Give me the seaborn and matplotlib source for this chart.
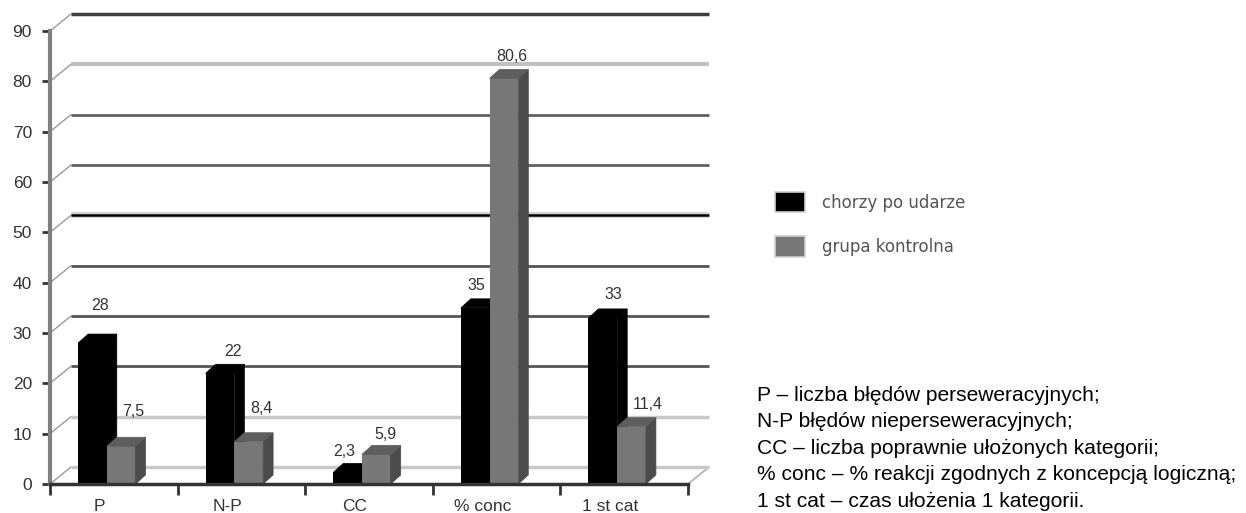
import pandas as pd
import matplotlib
matplotlib.use("Agg")
import matplotlib.pyplot as plt
from matplotlib.patches import Polygon, Patch
from matplotlib.transforms import ScaledTranslation
import seaborn as sns

# --- data -------------------------------------------------------------
categories = ["P", "N-P", "CC", "% conc", "1 st cat"]
groups = ["chorzy po udarze", "grupa kontrolna"]
stroke_patients = [28, 22, 2.3, 35, 33]
control_group = [7.5, 8.4, 5.9, 80.6, 11.4]
y_ticks = [0, 10, 20, 30, 40, 50, 60, 70, 80, 90]

notes = [
    "P – liczba błędów perseweracyjnych;",
    "N-P błędów nieperseweracyjnych;",
    "CC – liczba poprawnie ułożonych kategorii;",
    "% conc – % reakcji zgodnych z koncepcją logiczną;",
    "1 st cat – czas ułożenia 1 kategorii.",
]

# --- styling ----------------------------------------------------------
front_colors = ["#000000", "#777777"]
side_colors = ["#000000", "#4b4b4b"]
top_colors = ["#000000", "#5e5e5e"]
# back-wall gridline look, one entry per y tick
grid_colors = ["#c8c8c8", "#c8c8c8", "#555555", "#555555", "#555555",
               "#000000", "#606060", "#606060", "#c0c0c0", "#404040"]
grid_widths = [2.5, 2.5, 2.0, 2.0, 2.0, 1.8, 2.0, 2.0, 3.0, 2.5]
# value label offsets (pixels from the front top-centre of each bar)
label_dx = [[8, 13, -3, 1, 10], [12, 13, 9, 8, 16]]
label_dy = [[38, 22, 21, 22, 23], [35, 33, 20, 22, 22]]

sns.set_theme(style="white")
plt.rcParams["font.family"] = ["Liberation Sans", "DejaVu Sans"]

W, H = 1246, 513
fig = plt.figure(figsize=(W / 100, H / 100), dpi=100)
ax = fig.add_axes([50 / W, (H - 484) / H, 638 / W, 453 / H])

df = pd.DataFrame({
    "test": categories * 2,
    "group": [groups[0]] * len(categories) + [groups[1]] * len(categories),
    "value": stroke_patients + control_group,
})

sns.barplot(data=df, x="test", y="value", hue="group", order=categories,
            hue_order=groups, palette=front_colors, width=0.45,
            saturation=1, errorbar=None, legend=False, ax=ax)

ax.set_xlim(-0.5, 4.5)
ax.set_ylim(0, 90)

# pixel -> data unit factors
ux = 5 / 638
uy = 90 / 453

# 3-D look: extrude every bar backwards
bx, by = 10 * ux, 9 * uy
for p in list(ax.patches):
    gi = 0 if p.get_facecolor()[0] < 0.1 else 1
    p.set_x(p.get_x() - 7 * ux)
    p.set_linewidth(0)
    p.set_zorder(3 + gi)
    x0, w, h = p.get_x(), p.get_width(), p.get_height()
    side = Polygon([(x0 + w, 0), (x0 + w + bx, by), (x0 + w + bx, h + by), (x0 + w, h)],
                   closed=True, facecolor=side_colors[gi], edgecolor=side_colors[gi],
                   lw=0.5, zorder=3 + gi)
    top = Polygon([(x0, h), (x0 + bx, h + by), (x0 + w + bx, h + by), (x0 + w, h)],
                  closed=True, facecolor=top_colors[gi], edgecolor=top_colors[gi],
                  lw=0.5, zorder=3 + gi)
    ax.add_patch(side)
    ax.add_patch(top)

# value labels
for gi, series in enumerate([stroke_patients, control_group]):
    bars = [p for p in ax.patches if isinstance(p, matplotlib.patches.Rectangle)
            and p.get_zorder() == 3 + gi]
    bars.sort(key=lambda r: r.get_x())
    for i, (bar, v) in enumerate(zip(bars, series)):
        cx = bar.get_x() + bar.get_width() / 2
        ax.annotate(f"{v:g}".replace(".", ","), xy=(cx, v),
                    xytext=(label_dx[gi][i], label_dy[gi][i]),
                    textcoords="offset pixels", ha="center", va="center",
                    fontsize=11.5, color="#333333", zorder=6)

# back wall gridlines with the connecting diagonals
gx, gy = 21 * ux, 17 * uy
for v, c, lw in zip(y_ticks, grid_colors, grid_widths):
    if v == 50:
        ax.plot([-0.5 + gx, 4.5 + gx], [v + gy, v + gy], color="#d4d4d4",
                lw=4.5, clip_on=False, zorder=1, solid_capstyle="butt")
    ax.plot([-0.5 + gx, 4.5 + gx], [v + gy, v + gy], color=c, lw=lw,
            clip_on=False, zorder=1.1, solid_capstyle="butt")
    ax.plot([-0.5, -0.5 + gx], [v, v + gy], color="#9a9a9a", lw=1,
            clip_on=False, zorder=1)
ax.plot([4.5, 4.5 + gx], [0, gy], color="#b0b0b0", lw=1.2, clip_on=False, zorder=1)

# axes
for s in ["top", "right"]:
    ax.spines[s].set_visible(False)
ax.spines["left"].set_color("#808080")
ax.spines["left"].set_linewidth(3)
ax.spines["bottom"].set_color("#333333")
ax.spines["bottom"].set_linewidth(2.5)
ax.spines["bottom"].set_zorder(6)

ax.set_yticks(y_ticks)
ax.tick_params(axis="y", left=True, length=6, width=2, color="#333333",
               direction="out", pad=7, labelsize=12.5, labelcolor="#333333")
ax.set_xticks(range(len(categories)))
ax.set_xticks([i - 0.5 for i in range(len(categories) + 1)], minor=True)
ax.tick_params(axis="x", which="major", bottom=True, length=0, pad=11,
               labelsize=12.5, labelcolor="#333333")
ax.tick_params(axis="x", which="minor", bottom=True, length=8, width=2,
               color="#333333", direction="out")
shift = ScaledTranslation(-0.14, 0, fig.dpi_scale_trans)
for lbl in ax.get_xticklabels():
    lbl.set_transform(lbl.get_transform() + shift)
ax.set_xlabel("")
ax.set_ylabel("")
ax.grid(False)

# legend
fs_leg = 12
fs_px = fs_leg * 100 / 72
handles = [Patch(facecolor=front_colors[0], edgecolor="#d0d0d0", lw=1.2, label=groups[0]),
           Patch(facecolor=front_colors[1], edgecolor="#d0d0d0", lw=1.2, label=groups[1])]
ax.legend(handles=handles, loc="upper left", bbox_to_anchor=(775 / W, 1 - 192 / H),
          bbox_transform=fig.transFigure, frameon=False,
          prop={"family": "DejaVu Sans", "size": fs_leg}, labelcolor="#555555",
          handlelength=30 / fs_px, handleheight=25 / fs_px, handletextpad=17 / fs_px,
          labelspacing=24 / fs_px, borderpad=0, borderaxespad=0)

# abbreviations
baselines = [401, 427, 454, 480, 507]
for line, yb in zip(notes, baselines):
    fig.text(757 / W, 1 - yb / H, line, ha="left", va="baseline",
             fontsize=15.1, color="#000000", family="Liberation Sans")

fig.savefig("out.png", dpi=100, facecolor="white")
